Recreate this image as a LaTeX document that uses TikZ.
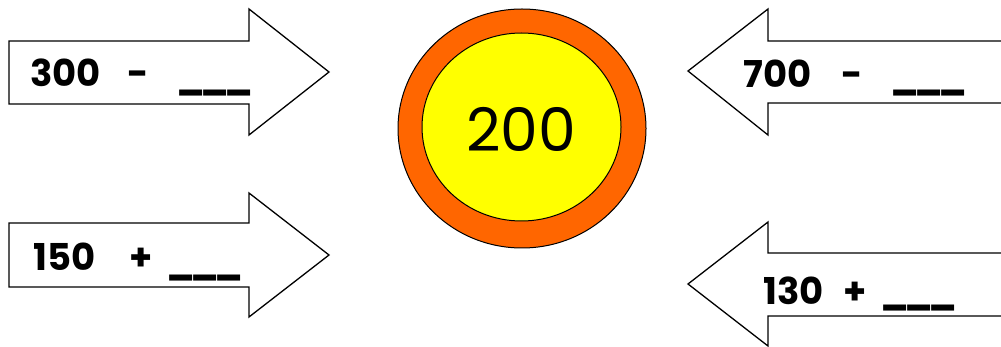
\documentclass[tikz,border=0pt]{standalone}
\usepackage{fontspec}
\setmainfont{Poppins}
\definecolor{ringorange}{HTML}{FF6600}
\definecolor{coreyellow}{HTML}{FFFF00}
\newcommand{\blankline}{\_\kern-4.5pt\_\kern-4.5pt\_}
\begin{document}
\begin{tikzpicture}[x=1pt,y=-1pt, line join=miter,
  arr/.style={draw=black, line width=1.3pt, fill=white},
  lbl/.style={anchor=base west, inner sep=0pt, font=\fontsize{37}{37}\selectfont\bfseries},
  op/.style={anchor=base, inner sep=0pt, font=\fontsize{37}{37}\selectfont\bfseries},
  blank/.style={anchor=base west, inner sep=0pt, font=\fontsize{37}{37}\selectfont\bfseries}]
\useasboundingbox (0,0) rectangle (1001,347);
% left arrows
\draw[arr] (9,41) -- (249,41) -- (249,9) -- (329,72) -- (249,135) -- (249,104) -- (9,104) -- cycle;
\draw[arr] (9,223) -- (249,223) -- (249,193) -- (329,255) -- (249,317) -- (249,287) -- (9,287) -- cycle;
% right arrows (open to the right edge)
\draw[arr] (1010,41) -- (768,41) -- (768,9) -- (688,71) -- (768,135) -- (768,103) -- (1010,103);
\draw[arr] (1010,253) -- (768,253) -- (768,222) -- (688,284) -- (768,346) -- (768,316) -- (1010,316);
% centre disc
\draw[line width=1pt, fill=ringorange] (522,128.5) ellipse [x radius=124, y radius=119.5];
\draw[line width=1pt, fill=coreyellow] (521.5,127) ellipse [x radius=99.5, y radius=94];
\node[inner sep=0pt, font=\fontsize{60}{60}\selectfont] (c) at (521,129.5) {200};
% labels
\node[lbl] (a1) at (30,87) {300};
\node[op] (o1) at (138,87) {-};
\node[blank] (b1) at (176,89) {\blankline};
\node[lbl] (a2) at (33,271) {150};
\node[op] (o2) at (141,271) {+};
\node[blank] (b2) at (166,273) {\blankline};
\node[lbl] (a3) at (743,88) {700};
\node[op] (o3) at (852,88) {-};
\node[blank] (b3) at (890,89) {\blankline};
\node[lbl] (a4) at (763,305) {130};
\node[op] (o4) at (855,305) {+};
\node[blank] (b4) at (880,304) {\blankline};
\end{tikzpicture}
\end{document}
